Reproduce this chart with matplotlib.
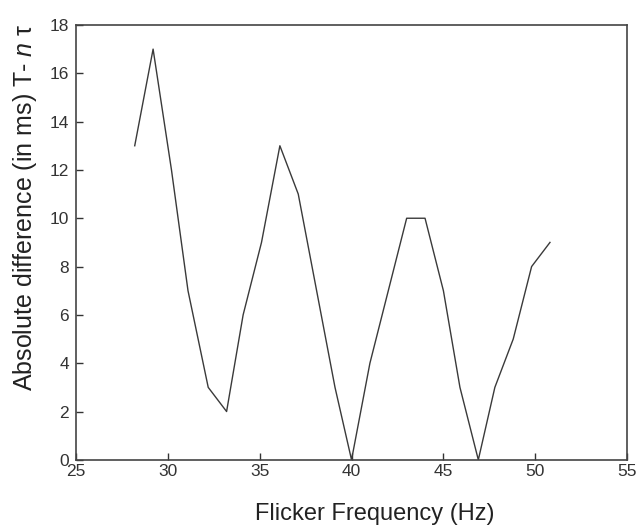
import matplotlib
matplotlib.use('Agg')
import matplotlib.pyplot as plt
from matplotlib import rcParams

rcParams['font.family'] = ['Liberation Sans', 'DejaVu Sans']
rcParams['mathtext.fontset'] = 'custom'
rcParams['mathtext.rm'] = 'Liberation Sans'
rcParams['mathtext.it'] = 'Liberation Sans:italic'

freq = [28.2, 29.2, 30.2, 31.1, 32.2, 33.2, 34.1, 35.1, 36.1, 37.1, 38.1, 39.1,
        40.0, 41.0, 42.0, 43.0, 44.0, 45.0, 45.9, 46.9, 47.8, 48.8, 49.8, 50.8]
diff = [13, 17, 12, 7, 3, 2, 6, 9, 13, 11, 7, 3,
        0, 4, 7, 10, 10, 7, 3, 0, 3, 5, 8, 9]

xticks = [25, 30, 35, 40, 45, 50, 55]
yticks = [0, 2, 4, 6, 8, 10, 12, 14, 16, 18]

fig = plt.figure(figsize=(6.38, 5.31), dpi=100)
ax = fig.add_axes([0.119, 0.134, 0.864, 0.819])

ax.plot(freq, diff, color='#3a3a3a', linewidth=1.0)

ax.set_xlim(25, 55)
ax.set_ylim(0, 18)
ax.set_xticks(xticks)
ax.set_yticks(yticks)
ax.tick_params(direction='in', length=5, width=1, labelsize=12.5,
               colors='#333333', pad=3)
ax.tick_params(axis='y', pad=5)
for s in ax.spines.values():
    s.set_color('#444444')
    s.set_linewidth(1.2)

ax.set_xlabel('Flicker Frequency (Hz)', fontsize=17, color='#222222')
ax.set_ylabel(r'Absolute difference (in ms) T- $n$ τ', fontsize=18,
              color='#222222')
# labels sit a little off-centre in the original
ax.xaxis.set_label_coords(0.542, -0.1)
ax.yaxis.set_label_coords(-0.067, 0.58)

plt.savefig('out.png', dpi=100)
